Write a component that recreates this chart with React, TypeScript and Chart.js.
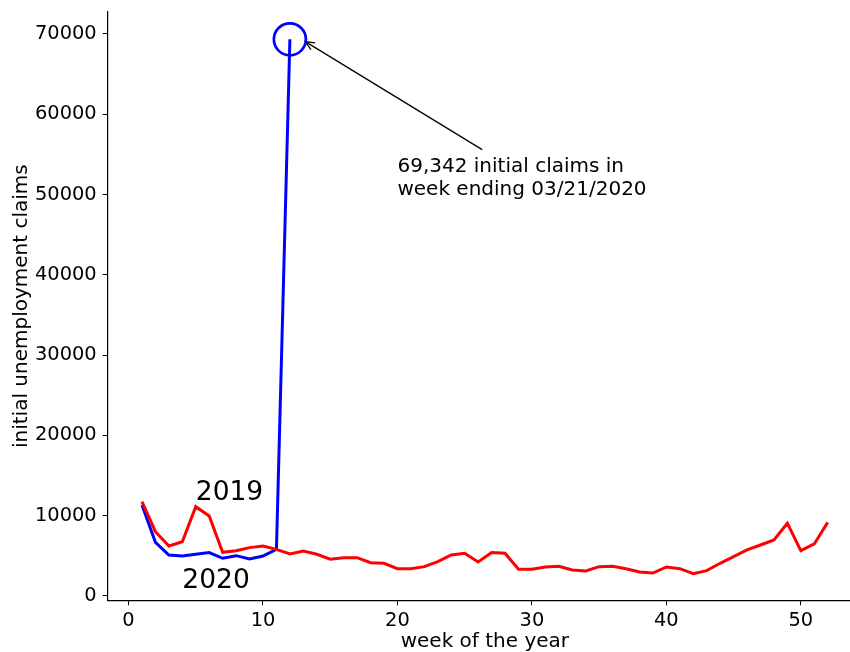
import React, { useEffect, useRef } from "react";
import { Chart, registerables } from "chart.js";

Chart.register(...registerables);

const WEEKS_2019 = Array.from({ length: 52 }, (_, i) => i + 1);
const CLAIMS_2019 = [
  11740, 8010, 6230, 6760, 11120, 9960, 5440, 5640, 6020, 6230,
  5810, 5230, 5600, 5190, 4570, 4770, 4770, 4150, 4070, 3400,
  3400, 3650, 4270, 5100, 5310, 4230, 5400, 5310, 3320, 3320,
  3610, 3690, 3240, 3110, 3650, 3690, 3400, 2990, 2860, 3610,
  3400, 2780, 3150, 4070, 4900, 5730, 6350, 6970, 9050, 5640,
  6480, 9170,
];
const WEEKS_2020 = [1, 2, 3, 4, 5, 6, 7, 8, 9, 10, 11, 12];
const CLAIMS_2020 = [11330, 6680, 5100, 4980, 5190, 5400, 4690, 5020, 4610, 4980, 5810, 69342];

const X_TICKS = [0, 10, 20, 30, 40, 50];
const Y_TICKS = [0, 10000, 20000, 30000, 40000, 50000, 60000, 70000];

const PEAK_POINT = { x: 12, y: 69342 };
const ANNOTATION_LINES = ["69,342 initial claims in", "week ending 03/21/2020"];
const ANNOTATION_AT = { x: 20, y: 50000 };
const ARROW_FROM = { x: 26.3, y: 55600 };
const ARROW_TO = { x: 13.15, y: 69050 };
const YEAR_LABELS = [
  { text: "2019", x: 5, y: 12000 },
  { text: "2020", x: 4, y: 1000 },
];

const FONT = '"DejaVu Sans", sans-serif';

const annotationPlugin = {
  id: "annotations",
  afterDatasetsDraw(chart: any) {
    const ctx = chart.ctx;
    const xs = chart.scales.x;
    const ys = chart.scales.y;
    const px = (v: number) => xs.getPixelForValue(v);
    const py = (v: number) => ys.getPixelForValue(v);
    ctx.save();
    ctx.fillStyle = "#000";
    ctx.textAlign = "left";
    ctx.textBaseline = "alphabetic";
    ctx.font = `26.5px ${FONT}`;
    for (const l of YEAR_LABELS) ctx.fillText(l.text, px(l.x), py(l.y));

    ctx.font = `20px ${FONT}`;
    const ax = px(ANNOTATION_AT.x);
    const ay = py(ANNOTATION_AT.y);
    const n = ANNOTATION_LINES.length;
    ANNOTATION_LINES.forEach((t, i) => {
      ctx.fillText(t, ax, ay - (n - 1 - i) * 22.5);
    });

    const x0 = px(ARROW_FROM.x), y0 = py(ARROW_FROM.y);
    const x1 = px(ARROW_TO.x), y1 = py(ARROW_TO.y);
    ctx.strokeStyle = "#000";
    ctx.lineWidth = 1.25;
    ctx.beginPath();
    ctx.moveTo(x0, y0);
    ctx.lineTo(x1, y1);
    ctx.stroke();
    const ang = Math.atan2(y0 - y1, x0 - x1);
    const hl = 9, hw = 4;
    const bx = x1 + Math.cos(ang) * hl, by = y1 + Math.sin(ang) * hl;
    const nx = -Math.sin(ang) * hw, ny = Math.cos(ang) * hw;
    ctx.beginPath();
    ctx.moveTo(bx + nx, by + ny);
    ctx.lineTo(x1, y1);
    ctx.lineTo(bx - nx, by - ny);
    ctx.stroke();
    ctx.restore();
  },
};

export default function App() {
  const ref = useRef<HTMLCanvasElement | null>(null);
  useEffect(() => {
    if (!ref.current) return;
    Chart.defaults.font.family = FONT;
    const chart = new Chart(ref.current, {
      type: "line",
      data: {
        datasets: [
          {
            label: "2019",
            data: WEEKS_2019.map((w, i) => ({ x: w, y: CLAIMS_2019[i] })),
            borderColor: "#ff0000",
            borderWidth: 3,
            pointRadius: 0,
            tension: 0,
            fill: false,
          },
          {
            label: "2020",
            data: WEEKS_2020.map((w, i) => ({ x: w, y: CLAIMS_2020[i] })),
            borderColor: "#0000ff",
            borderWidth: 3,
            pointRadius: 0,
            tension: 0,
            fill: false,
          },
          {
            label: "peak",
            data: [PEAK_POINT],
            showLine: false,
            pointRadius: 16,
            pointBorderWidth: 2.7,
            pointBorderColor: "#0000ff",
            pointBackgroundColor: "rgba(0,0,0,0)",
            pointStyle: "circle",
            clip: false,
          },
        ],
      },
      options: {
        responsive: false,
        animation: false,
        events: [],
        layout: { autoPadding: false, padding: { left: 12, top: 12, right: 0, bottom: 0 } },
        plugins: {
          legend: { display: false },
          tooltip: { enabled: false },
        },
        scales: {
          x: {
            type: "linear",
            min: -1.55,
            max: 54.55,
            afterFit: (s: any) => {
              s.height = 51.7;
              s.paddingLeft = 0;
              s.paddingRight = 0;
            },
            afterBuildTicks: (s: any) => {
              s.ticks = X_TICKS.map((v) => ({ value: v }));
            },
            ticks: {
              stepSize: 10,
              includeBounds: false,
              color: "#000",
              font: { size: 19.4 },
              padding: 4,
              maxRotation: 0,
              autoSkip: false,
              callback: (v: any) => String(v),
            },
            grid: {
              drawOnChartArea: false,
              drawTicks: true,
              tickLength: 5,
              tickColor: "#000",
              tickWidth: 1,
            },
            border: { color: "#000", width: 1.2 },
            title: {
              display: true,
              text: "week of the year",
              color: "#000",
              font: { size: 20, lineHeight: 1.06 },
              padding: 0,
            },
          },
          y: {
            type: "linear",
            min: -540,
            max: 72740,
            afterFit: (s: any) => {
              s.width = 95.7;
              s.paddingTop = 0;
              s.paddingBottom = 0;
            },
            afterBuildTicks: (s: any) => {
              s.ticks = Y_TICKS.map((v) => ({ value: v }));
            },
            ticks: {
              stepSize: 10000,
              includeBounds: false,
              color: "#000",
              font: { size: 19.4 },
              padding: 6,
              autoSkip: false,
              callback: (v: any) => String(v),
            },
            grid: {
              drawOnChartArea: false,
              drawTicks: true,
              tickLength: 5,
              tickColor: "#000",
              tickWidth: 1,
            },
            border: { color: "#000", width: 1.2 },
            title: {
              display: true,
              text: "initial unemployment claims",
              color: "#000",
              font: { size: 20, lineHeight: 1.0 },
              padding: 0,
            },
          },
        },
      },
      plugins: [annotationPlugin],
    } as any);
    return () => chart.destroy();
  }, []);
  return (
    <div style={{ position: "fixed", left: 0, top: 0, width: 850, height: 652, overflow: "hidden" }}>
      <canvas ref={ref} width={862} height={652} style={{ width: 862, height: 652, display: "block" }} />
    </div>
  );
}
